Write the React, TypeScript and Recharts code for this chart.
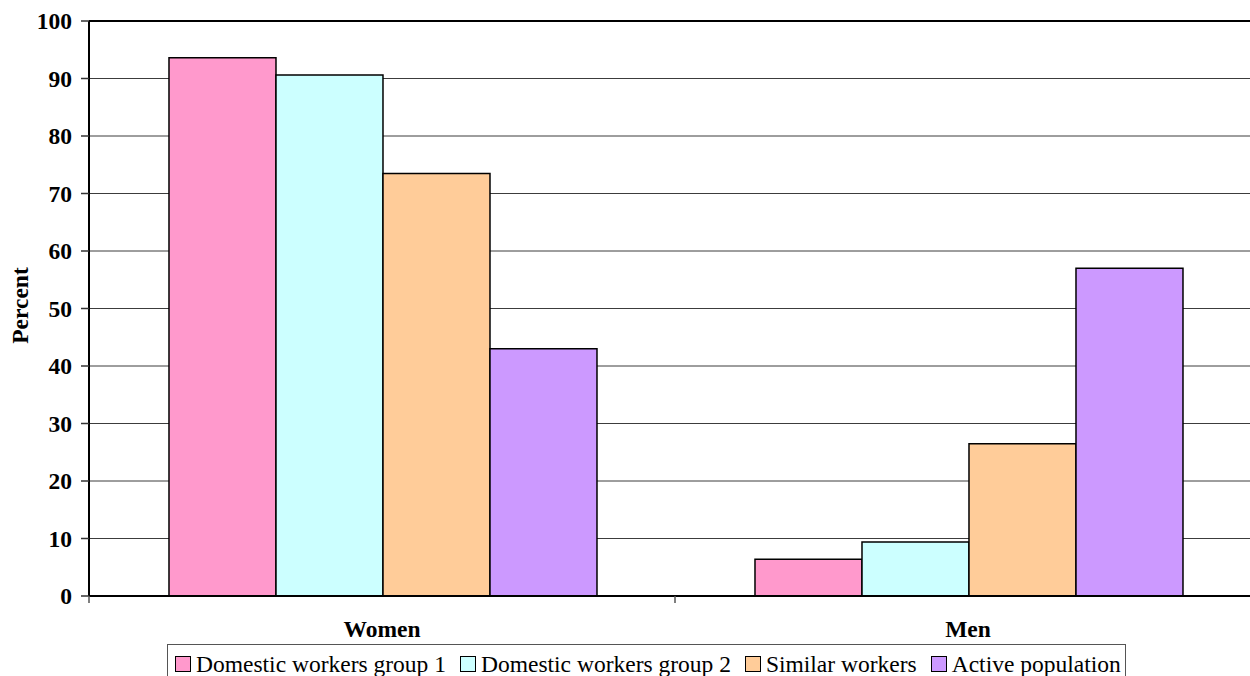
import React from "react";
import { BarChart, Bar, XAxis, YAxis, CartesianGrid, ReferenceLine } from "recharts";

// Share of each group by sex (percent)
const categories = ["Women", "Men"];
const domesticGroup1 = [93.6, 6.4];
const domesticGroup2 = [90.6, 9.4];
const similarWorkers = [73.5, 26.5];
const activePopulation = [43.0, 57.0];
const yTicks = [0, 10, 20, 30, 40, 50, 60, 70, 80, 90, 100];

const series = [
  { key: "g1", name: "Domestic workers group 1", values: domesticGroup1, color: "#FF99CC" },
  { key: "g2", name: "Domestic workers group 2", values: domesticGroup2, color: "#CCFFFF" },
  { key: "sim", name: "Similar workers", values: similarWorkers, color: "#FFCC99" },
  { key: "act", name: "Active population", values: activePopulation, color: "#CC99FF" },
];

const data = categories.map((group, i) => {
  const row: Record<string, string | number> = { group };
  series.forEach((s) => {
    row[s.key] = s.values[i];
  });
  return row;
});

const FONT = '"Liberation Serif", "Times New Roman", serif';

// Category label plus the small tick marks that sit on the category boundaries
const CategoryTick = (props: any) => {
  const { x, y, payload, index, visibleTicksCount } = props;
  const half = payload && payload.offset ? payload.offset : 0;
  const axisY = y - 8;
  const isLast = index === (visibleTicksCount || 0) - 1;
  return (
    <g>
      <line x1={x - half} x2={x - half} y1={axisY} y2={axisY + 7} stroke="#555" strokeWidth={1.5} />
      {isLast && <line x1={x + half} x2={x + half} y1={axisY} y2={axisY + 7} stroke="#555" strokeWidth={1.5} />}
      <text x={x} y={y + 33} textAnchor="middle" fontFamily={FONT} fontSize={23.5} fontWeight="bold" fill="#000">
        {payload.value}
      </text>
    </g>
  );
};

const PercentLabel = (props: any) => {
  const vb = props.viewBox || {};
  const cx = (vb.x || 0) + 20;
  const cy = (vb.y || 0) + (vb.height || 0) / 2 - 3;
  return (
    <text
      x={cx}
      y={cy}
      transform={`rotate(-90, ${cx}, ${cy})`}
      textAnchor="middle"
      dominantBaseline="central"
      fontFamily={FONT}
      fontSize={23.5}
      fontWeight="bold"
      fill="#000"
    >
      Percent
    </text>
  );
};

export default function App() {
  return (
    <div
      style={{
        position: "fixed",
        left: 0,
        top: 0,
        width: 1250,
        height: 676,
        overflow: "hidden",
        background: "#fff",
      }}
    >
      <BarChart
        width={1290}
        height={660}
        data={data}
        margin={{ top: 21, right: 29, bottom: 20, left: 0 }}
        barCategoryGap="13.65%"
        barGap={0}
      >
        <CartesianGrid vertical={false} stroke="#3c3c3c" strokeWidth={1} />
        <XAxis
          dataKey="group"
          height={44}
          tickSize={6}
          tickMargin={2}
          tickLine={false}
          axisLine={{ stroke: "#000", strokeWidth: 2 }}
          tick={<CategoryTick />}
          interval={0}
        />
        <YAxis
          width={89}
          domain={[0, 100]}
          ticks={yTicks}
          interval={0}
          tickSize={8}
          tickMargin={9}
          axisLine={{ stroke: "#000", strokeWidth: 2 }}
          tickLine={{ stroke: "#333", strokeWidth: 1.5 }}
          tick={{ fontFamily: FONT, fontSize: 23.5, fontWeight: "bold", fill: "#000" }}
          label={<PercentLabel />}
        />
        <ReferenceLine y={100} stroke="#000" strokeWidth={2} />
        {series.map((s) => (
          <Bar
            key={s.key}
            dataKey={s.key}
            name={s.name}
            fill={s.color}
            stroke="#000"
            strokeWidth={1.5}
            isAnimationActive={false}
          />
        ))}
      </BarChart>
      <div
        style={{
          position: "absolute",
          left: 167,
          top: 644,
          width: 959,
          height: 50,
          border: "1.5px solid #555",
          boxSizing: "border-box",
          display: "flex",
          alignItems: "flex-start",
          paddingLeft: 7,
          paddingTop: 7,
          fontFamily: FONT,
          fontSize: 23.5,
          lineHeight: "24px",
          color: "#000",
          whiteSpace: "nowrap",
        }}
      >
        {series.map((s) => (
          <div key={s.key} style={{ display: "flex", alignItems: "center", marginRight: 14 }}>
            <span
              style={{
                display: "inline-block",
                width: 14,
                height: 14,
                background: s.color,
                border: "1px solid #000",
                marginRight: 5,
              }}
            />
            <span>{s.name}</span>
          </div>
        ))}
      </div>
    </div>
  );
}
